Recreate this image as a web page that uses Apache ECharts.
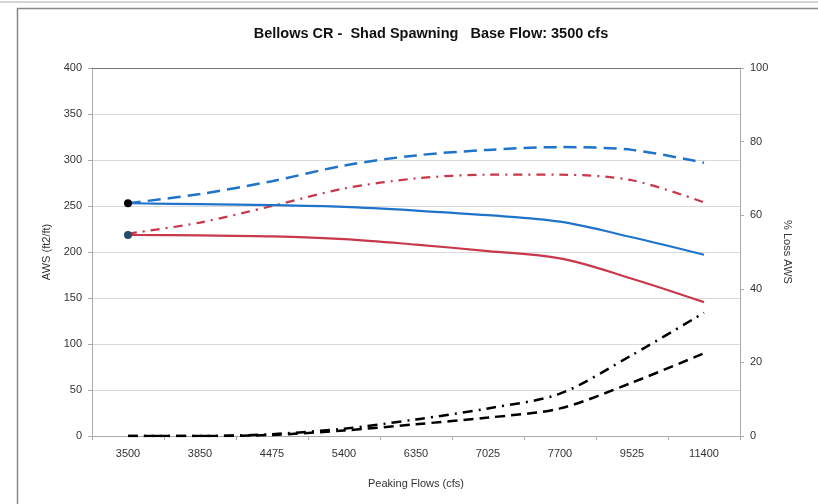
<!DOCTYPE html>
<html><head><meta charset="utf-8">
<script src="https://cdn.jsdelivr.net/npm/echarts@6/dist/echarts.min.js"></script>
<style>html,body{margin:0;padding:0;background:#fff}#c{width:818px;height:504px}</style>
</head><body><div id="c"></div>
<script>
const categories = ['3500','3850','4475','5400','6350','7025','7700','9525','11400'];
const leftTicks = [0,50,100,150,200,250,300,350,400];
const rightTicks = [0,20,40,60,80,100];
const blueSolid = [253,252,251,249,245,240,233,216,197];
const redSolid = [218.5,218,217,214,208,201,193,171,145.5];
const blueDashed = [253,263,277,294,305,311,314,311,297];
const redDashDot = [220,232,250,269,280,284,284,278,254];
const blackDashDot = [0,0,0.5,2,4.5,7.5,11.5,22,33.5];
const blackDashed = [0,0,0.3,1.5,3.2,5,7.5,14.5,22.5];

const chart = echarts.init(document.getElementById('c'));
const font = 'Liberation Sans, Arial, sans-serif';
function firstMarked(arr, color){
  return arr.map((v,i)=> i===0 ? {value:v, symbol:'circle', symbolSize:8, itemStyle:{color:color}} : v);
}
chart.setOption({
  animation:false,
  backgroundColor:'#fff',
  title:{text:'Bellows CR -  Shad Spawning   Base Flow: 3500 cfs', left:426, top:21, textAlign:'center',
    textStyle:{fontFamily:font, fontSize:14.5, fontWeight:'bold', color:'#111'}},
  graphic:[
    {type:'line', shape:{x1:0,y1:2,x2:818,y2:2}, style:{stroke:'#aaa', lineWidth:1}},
    {type:'rect', shape:{x:17.5,y:8.5,width:900,height:600}, style:{fill:null, stroke:'#888', lineWidth:1.5}},
    {type:'line', shape:{x1:92,y1:68.5,x2:740,y2:68.5}, style:{stroke:'#777', lineWidth:1.2}, z:5}
  ],
  grid:{left:92, right:78, top:68, bottom:68},
  xAxis:{type:'category', data:categories, boundaryGap:true,
    name:'Peaking Flows (cfs)', nameLocation:'middle', nameGap:42,
    nameTextStyle:{fontFamily:font, fontSize:11, color:'#333'},
    axisLine:{lineStyle:{color:'#aaa'}}, axisTick:{show:true, lineStyle:{color:'#aaa'}, length:4},
    axisLabel:{fontFamily:font, fontSize:11, color:'#333', margin:12}},
  yAxis:[
    {type:'value', min:0, max:400, interval:50, position:'left',
     name:'AWS (ft2/ft)', nameLocation:'middle', nameGap:38, nameRotate:90,
     nameTextStyle:{fontFamily:font, fontSize:11, color:'#333'},
     axisLine:{show:true, lineStyle:{color:'#aaa'}}, axisTick:{show:true, length:4, lineStyle:{color:'#aaa'}},
     axisLabel:{fontFamily:font, fontSize:11, color:'#333', margin:10, formatter:v=>leftTicks.includes(v)?String(v):''},
     splitLine:{show:true, lineStyle:{color:'#d9d9d9'}}},
    {type:'value', min:0, max:100, interval:20, position:'right',
     name:'% Loss AWS', nameLocation:'middle', nameGap:42, nameRotate:-90,
     nameTextStyle:{fontFamily:font, fontSize:11, color:'#333'},
     axisLine:{show:true, lineStyle:{color:'#aaa'}}, axisTick:{show:true, length:4, lineStyle:{color:'#aaa'}},
     axisLabel:{fontFamily:font, fontSize:11, color:'#333', margin:10, formatter:v=>rightTicks.includes(v)?String(v):''},
     splitLine:{show:false}}
  ],
  series:[
    {type:'line', name:'blueDashed', data:blueDashed, yAxisIndex:0, smooth:0.3, symbol:'none',
     lineStyle:{color:'#1f74c9', width:2.5, type:[13,7]}, z:2},
    {type:'line', name:'redDashDot', data:redDashDot, yAxisIndex:0, smooth:0.3, symbol:'none',
     lineStyle:{color:'#c8374a', width:2.2, type:[9,6,2,6]}, z:2},
    {type:'line', name:'blueSolid', data:firstMarked(blueSolid,'#000'), yAxisIndex:0, smooth:0.35, symbol:'none',
     lineStyle:{color:'#1f74c9', width:2.2}, itemStyle:{color:'#1f74c9'}, z:3},
    {type:'line', name:'redSolid', data:firstMarked(redSolid,'#2a4a6a'), yAxisIndex:0, smooth:0.35, symbol:'none',
     lineStyle:{color:'#c8374a', width:2.2}, itemStyle:{color:'#c8374a'}, z:3},
    {type:'line', name:'blackDashDot', data:blackDashDot, yAxisIndex:1, smooth:0.3, symbol:'none',
     lineStyle:{color:'#000', width:2.5, type:[10,6,2,6]}, z:2},
    {type:'line', name:'blackDashed', data:blackDashed, yAxisIndex:1, smooth:0.3, symbol:'none',
     lineStyle:{color:'#000', width:2.5, type:[10,6]}, z:2}
  ]
});
</script></body></html>
